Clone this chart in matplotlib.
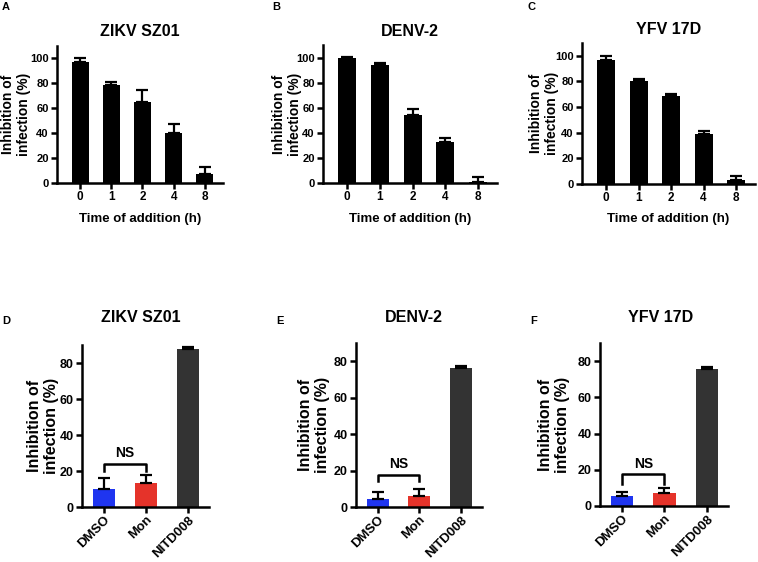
import matplotlib
matplotlib.use("Agg")
import matplotlib.pyplot as plt

plt.rcParams['font.family'] = ['Liberation Sans', 'DejaVu Sans']
plt.rcParams['font.weight'] = 'bold'

# ---- data ----
time_labels = ["0", "1", "2", "4", "8"]
zikv_time = [97, 79, 65, 40, 7]
zikv_time_err = [3, 2, 10, 7, 6]
denv_time = [100, 94, 54, 33, 1]
denv_time_err = [0.5, 1.5, 5, 2.5, 3.5]
yfv_time = [97, 80, 69, 39, 3]
yfv_time_err = [2.5, 2, 1.5, 2, 3]

drug_labels = ["DMSO", "Mon", "NITD008"]
drug_colors = ["#1f35f0", "#e5332a", "#333333"]
zikv_drug = [10, 13.5, 87.5]
zikv_drug_err = [6, 4.5, 1.5]
denv_drug = [4.5, 6, 76.5]
denv_drug_err = [3.5, 4, 0.7]
yfv_drug = [5.5, 7, 75.5]
yfv_drug_err = [2.5, 3, 1.5]

ns_levels = [(24, 20), (17.5, 14), (17.5, 12)]
titles = ["ZIKV SZ01", "DENV-2", "YFV 17D"]

W, H = 758, 562
fig = plt.figure(figsize=(W / 100, H / 100), dpi=100)

def axes_px(left, top, right, bottom):
    return fig.add_axes([left / W, 1 - bottom / H, (right - left) / W, (bottom - top) / H])

def ftext(px, py, s, **kw):
    return fig.text(px / W, 1 - py / H, s, **kw)

def style(ax, tsize_x, tsize_y):
    for s in ['top', 'right']:
        ax.spines[s].set_visible(False)
    for s in ['left', 'bottom']:
        ax.spines[s].set_linewidth(1.8)
    ax.tick_params(width=1.8, length=4, pad=2)
    ax.tick_params(axis='x', labelsize=tsize_x)
    ax.tick_params(axis='y', labelsize=tsize_y)
    for lab in ax.get_xticklabels() + ax.get_yticklabels():
        lab.set_fontweight('bold')

# ---- top row ----
top_boxes = [(57, 46, 223, 183), (323, 45, 497, 183), (582, 43, 755, 184)]
top_data = [(zikv_time, zikv_time_err), (denv_time, denv_time_err), (yfv_time, yfv_time_err)]
top_ylab_x = [16, 287, 544]
top_title_y = [32, 32, 30]
letters_top = [("A", 6, 7), ("B", 276, 7), ("C", 531, 7)]

for box, title, (vals, errs), ylx, tty in zip(top_boxes, titles, top_data, top_ylab_x, top_title_y):
    ax = axes_px(*box)
    x = list(range(len(vals)))
    ax.bar(x, vals, width=0.55, color='black')
    ax.errorbar(x, vals, yerr=[[0] * len(errs), errs], fmt='none', ecolor='black',
                elinewidth=1.6, capsize=4.5, capthick=1.6)
    ax.set_xlim(-0.74, 4.58)
    ax.set_ylim(0, 110)
    ax.set_yticks([0, 20, 40, 60, 80, 100])
    ax.set_xticks(x)
    ax.set_xticklabels(time_labels)
    style(ax, 8.5, 8)
    cx = (box[0] + box[2]) / 2
    ftext(ylx, (box[1] + box[3]) / 2, "Inhibition of\ninfection (%)", rotation=90,
          ha='center', va='center', fontsize=10, fontweight='bold', linespacing=1.2)
    ftext(cx, 219, "Time of addition (h)", ha='center', va='center', fontsize=9.5, fontweight='bold')
    ftext(cx, tty, title, ha='center', va='center', fontsize=11.5, fontweight='bold')

for t, px, py in letters_top:
    ftext(px, py, t, fontsize=8, fontweight='bold', ha='center', va='center')

# ---- bottom row ----
bot_boxes = [(82, 345, 209, 507), (356, 343, 482, 507), (600, 343, 728, 506)]
bot_data = [(zikv_drug, zikv_drug_err), (denv_drug, denv_drug_err), (yfv_drug, yfv_drug_err)]
bot_ylab_x = [43, 314, 554]
bot_title_x = [141, 414, 661]
letters_bot = [("D", 6, 321), ("E", 280, 321), ("F", 534, 321)]

for box, title, (vals, errs), (ybr, yleg), ylx, ttx in zip(bot_boxes, titles, bot_data, ns_levels,
                                                          bot_ylab_x, bot_title_x):
    ax = axes_px(*box)
    x = list(range(len(vals)))
    ax.bar(x, vals, width=0.53, color=drug_colors)
    ax.errorbar(x, vals, yerr=[[0] * len(errs), errs], fmt='none', ecolor='black',
                elinewidth=1.6, capsize=4.5, capthick=1.6)
    ax.set_xlim(-0.52, 2.5)
    ax.set_ylim(0, 90)
    ax.set_yticks([0, 20, 40, 60, 80])
    ax.set_xticks(x)
    ax.set_xticklabels(drug_labels, rotation=45, ha='right', rotation_mode='anchor')
    style(ax, 9.5, 9)
    ax.tick_params(axis='x', pad=1)
    ax.plot([0, 0, 1, 1], [yleg, ybr, ybr, yleg], color='black', lw=1.8, clip_on=False)
    ax.text(0.5, ybr + 2, "NS", ha='center', va='bottom', fontsize=10, fontweight='bold')
    ftext(ylx, (box[1] + box[3]) / 2, "Inhibition of\ninfection (%)", rotation=90,
          ha='center', va='center', fontsize=11.5, fontweight='bold', linespacing=1.2)
    ftext(ttx, 318, title, ha='center', va='center', fontsize=11.5, fontweight='bold')

for t, px, py in letters_bot:
    ftext(px, py, t, fontsize=8, fontweight='bold', ha='center', va='center')

fig.savefig("out.png", dpi=100)
